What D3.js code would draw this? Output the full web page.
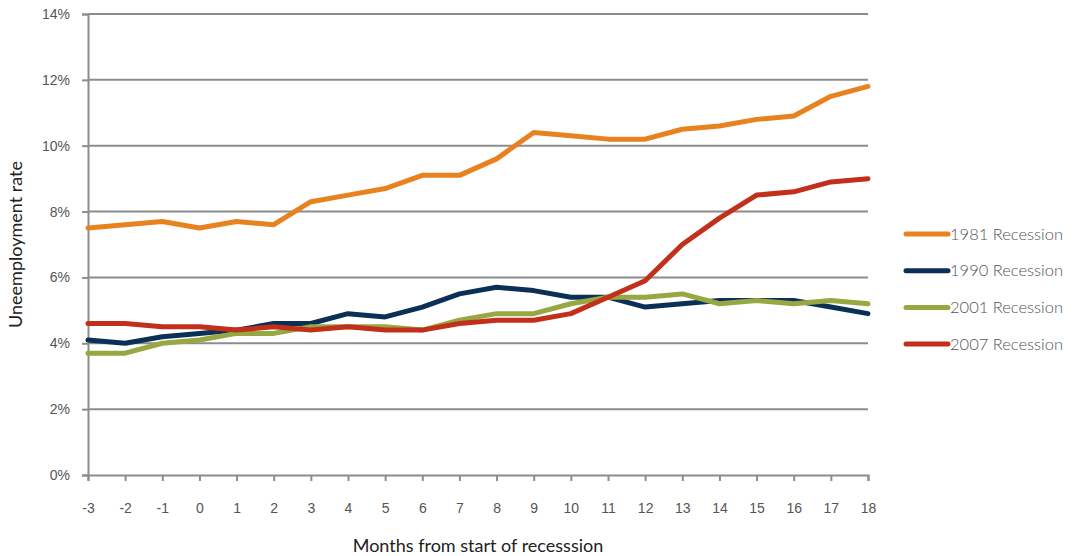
<!DOCTYPE html>
<html>
<head>
<meta charset="utf-8">
<script src="https://cdn.jsdelivr.net/npm/d3@7"></script>
<style>
  body { margin: 0; background: #fff; }
  svg { display: block; font-family: "Lato", "Open Sans", sans-serif; }
</style>
</head>
<body>
<svg id="chart" width="1078" height="556"></svg>
<script>
const months = [-3, -2, -1, 0, 1, 2, 3, 4, 5, 6, 7, 8, 9, 10, 11, 12, 13, 14, 15, 16, 17, 18];
const yTicks = [0, 2, 4, 6, 8, 10, 12, 14];

const r1981 = [7.5, 7.6, 7.7, 7.5, 7.7, 7.6, 8.3, 8.5, 8.7, 9.1, 9.1, 9.6, 10.4, 10.3, 10.2, 10.2, 10.5, 10.6, 10.8, 10.9, 11.5, 11.8];
const r1990 = [4.1, 4.0, 4.2, 4.3, 4.4, 4.6, 4.6, 4.9, 4.8, 5.1, 5.5, 5.7, 5.6, 5.4, 5.4, 5.1, 5.2, 5.3, 5.3, 5.3, 5.1, 4.9];
const r2001 = [3.7, 3.7, 4.0, 4.1, 4.3, 4.3, 4.5, 4.5, 4.5, 4.4, 4.7, 4.9, 4.9, 5.2, 5.4, 5.4, 5.5, 5.2, 5.3, 5.2, 5.3, 5.2];
const r2007 = [4.6, 4.6, 4.5, 4.5, 4.4, 4.5, 4.4, 4.5, 4.4, 4.4, 4.6, 4.7, 4.7, 4.9, 5.4, 5.9, 7.0, 7.8, 8.5, 8.6, 8.9, 9.0];

const seriesNames = ["1981 Recession", "1990 Recession", "2001 Recession", "2007 Recession"];
const seriesValues = [r1981, r1990, r2001, r2007];
const seriesColors = ["#e8821e", "#0b3055", "#97a843", "#c2301b"];

const svg = d3.select("#chart");
const margin = { left: 88, top: 14, right: 210, bottom: 81 };
const width = 1078, height = 556;

const x = d3.scaleLinear().domain([-3, 18]).range([margin.left, width - margin.right]);
const y = d3.scaleLinear().domain([0, 14]).range([height - margin.bottom, margin.top]);

const gridColor = "#8c8c8c";
const textColor = "#555";

// gridlines
svg.append("g")
  .selectAll("line")
  .data(yTicks.filter(d => d > 0))
  .join("line")
  .attr("x1", x(-3)).attr("x2", x(18))
  .attr("y1", d => y(d)).attr("y2", d => y(d))
  .attr("stroke", gridColor).attr("stroke-width", 2);

// y axis
const yAxis = svg.append("g")
  .attr("transform", `translate(${x(-3)},0)`)
  .call(d3.axisLeft(y).tickValues(yTicks).tickSize(6).tickPadding(12).tickFormat(d => d + "%"));
yAxis.select(".domain").attr("stroke", gridColor).attr("stroke-width", 2);
yAxis.selectAll(".tick line").attr("stroke", gridColor).attr("stroke-width", 2);
yAxis.selectAll("text").attr("fill", textColor).style("font-size", "14px").style("font-weight", 300);

// x axis
const xAxis = svg.append("g")
  .attr("transform", `translate(0,${y(0)})`)
  .call(d3.axisBottom(x).tickValues(months).tickSize(6).tickPadding(22).tickFormat(d => String(d)));
xAxis.select(".domain").attr("stroke", gridColor).attr("stroke-width", 2);
xAxis.selectAll(".tick line").attr("stroke", gridColor).attr("stroke-width", 2);
xAxis.selectAll("text").attr("fill", textColor).style("font-size", "14px").style("font-weight", 300);

// lines
const line = d3.line()
  .x((d, i) => x(months[i]))
  .y(d => y(d));

svg.append("g")
  .selectAll("path")
  .data(seriesValues)
  .join("path")
  .attr("d", line)
  .attr("fill", "none")
  .attr("stroke", (d, i) => seriesColors[i])
  .attr("stroke-width", 5)
  .attr("stroke-linejoin", "round")
  .attr("stroke-linecap", "round");

// axis titles
svg.append("text")
  .attr("transform", `translate(22,${(y(0) + y(14)) / 2}) rotate(-90)`)
  .attr("text-anchor", "middle")
  .attr("fill", "#222")
  .style("font-size", "18px")
  .text("Uneemployment rate");

svg.append("text")
  .attr("x", (x(-3) + x(18)) / 2)
  .attr("y", 552)
  .attr("text-anchor", "middle")
  .attr("fill", "#222")
  .style("font-size", "18px")
  .text("Months from start of recesssion");

// legend
const legend = svg.append("g")
  .selectAll("g")
  .data(seriesNames)
  .join("g")
  .attr("transform", (d, i) => `translate(906,${234 + i * 36.7})`);

legend.append("line")
  .attr("x1", 0).attr("x2", 42)
  .attr("stroke", (d, i) => seriesColors[i])
  .attr("stroke-width", 5)
  .attr("stroke-linecap", "round");

legend.append("text")
  .attr("x", 44)
  .attr("dy", "0.35em")
  .attr("fill", textColor)
  .style("font-size", "16.5px")
  .style("font-weight", 300)
  .text(d => d);
</script>
</body>
</html>
